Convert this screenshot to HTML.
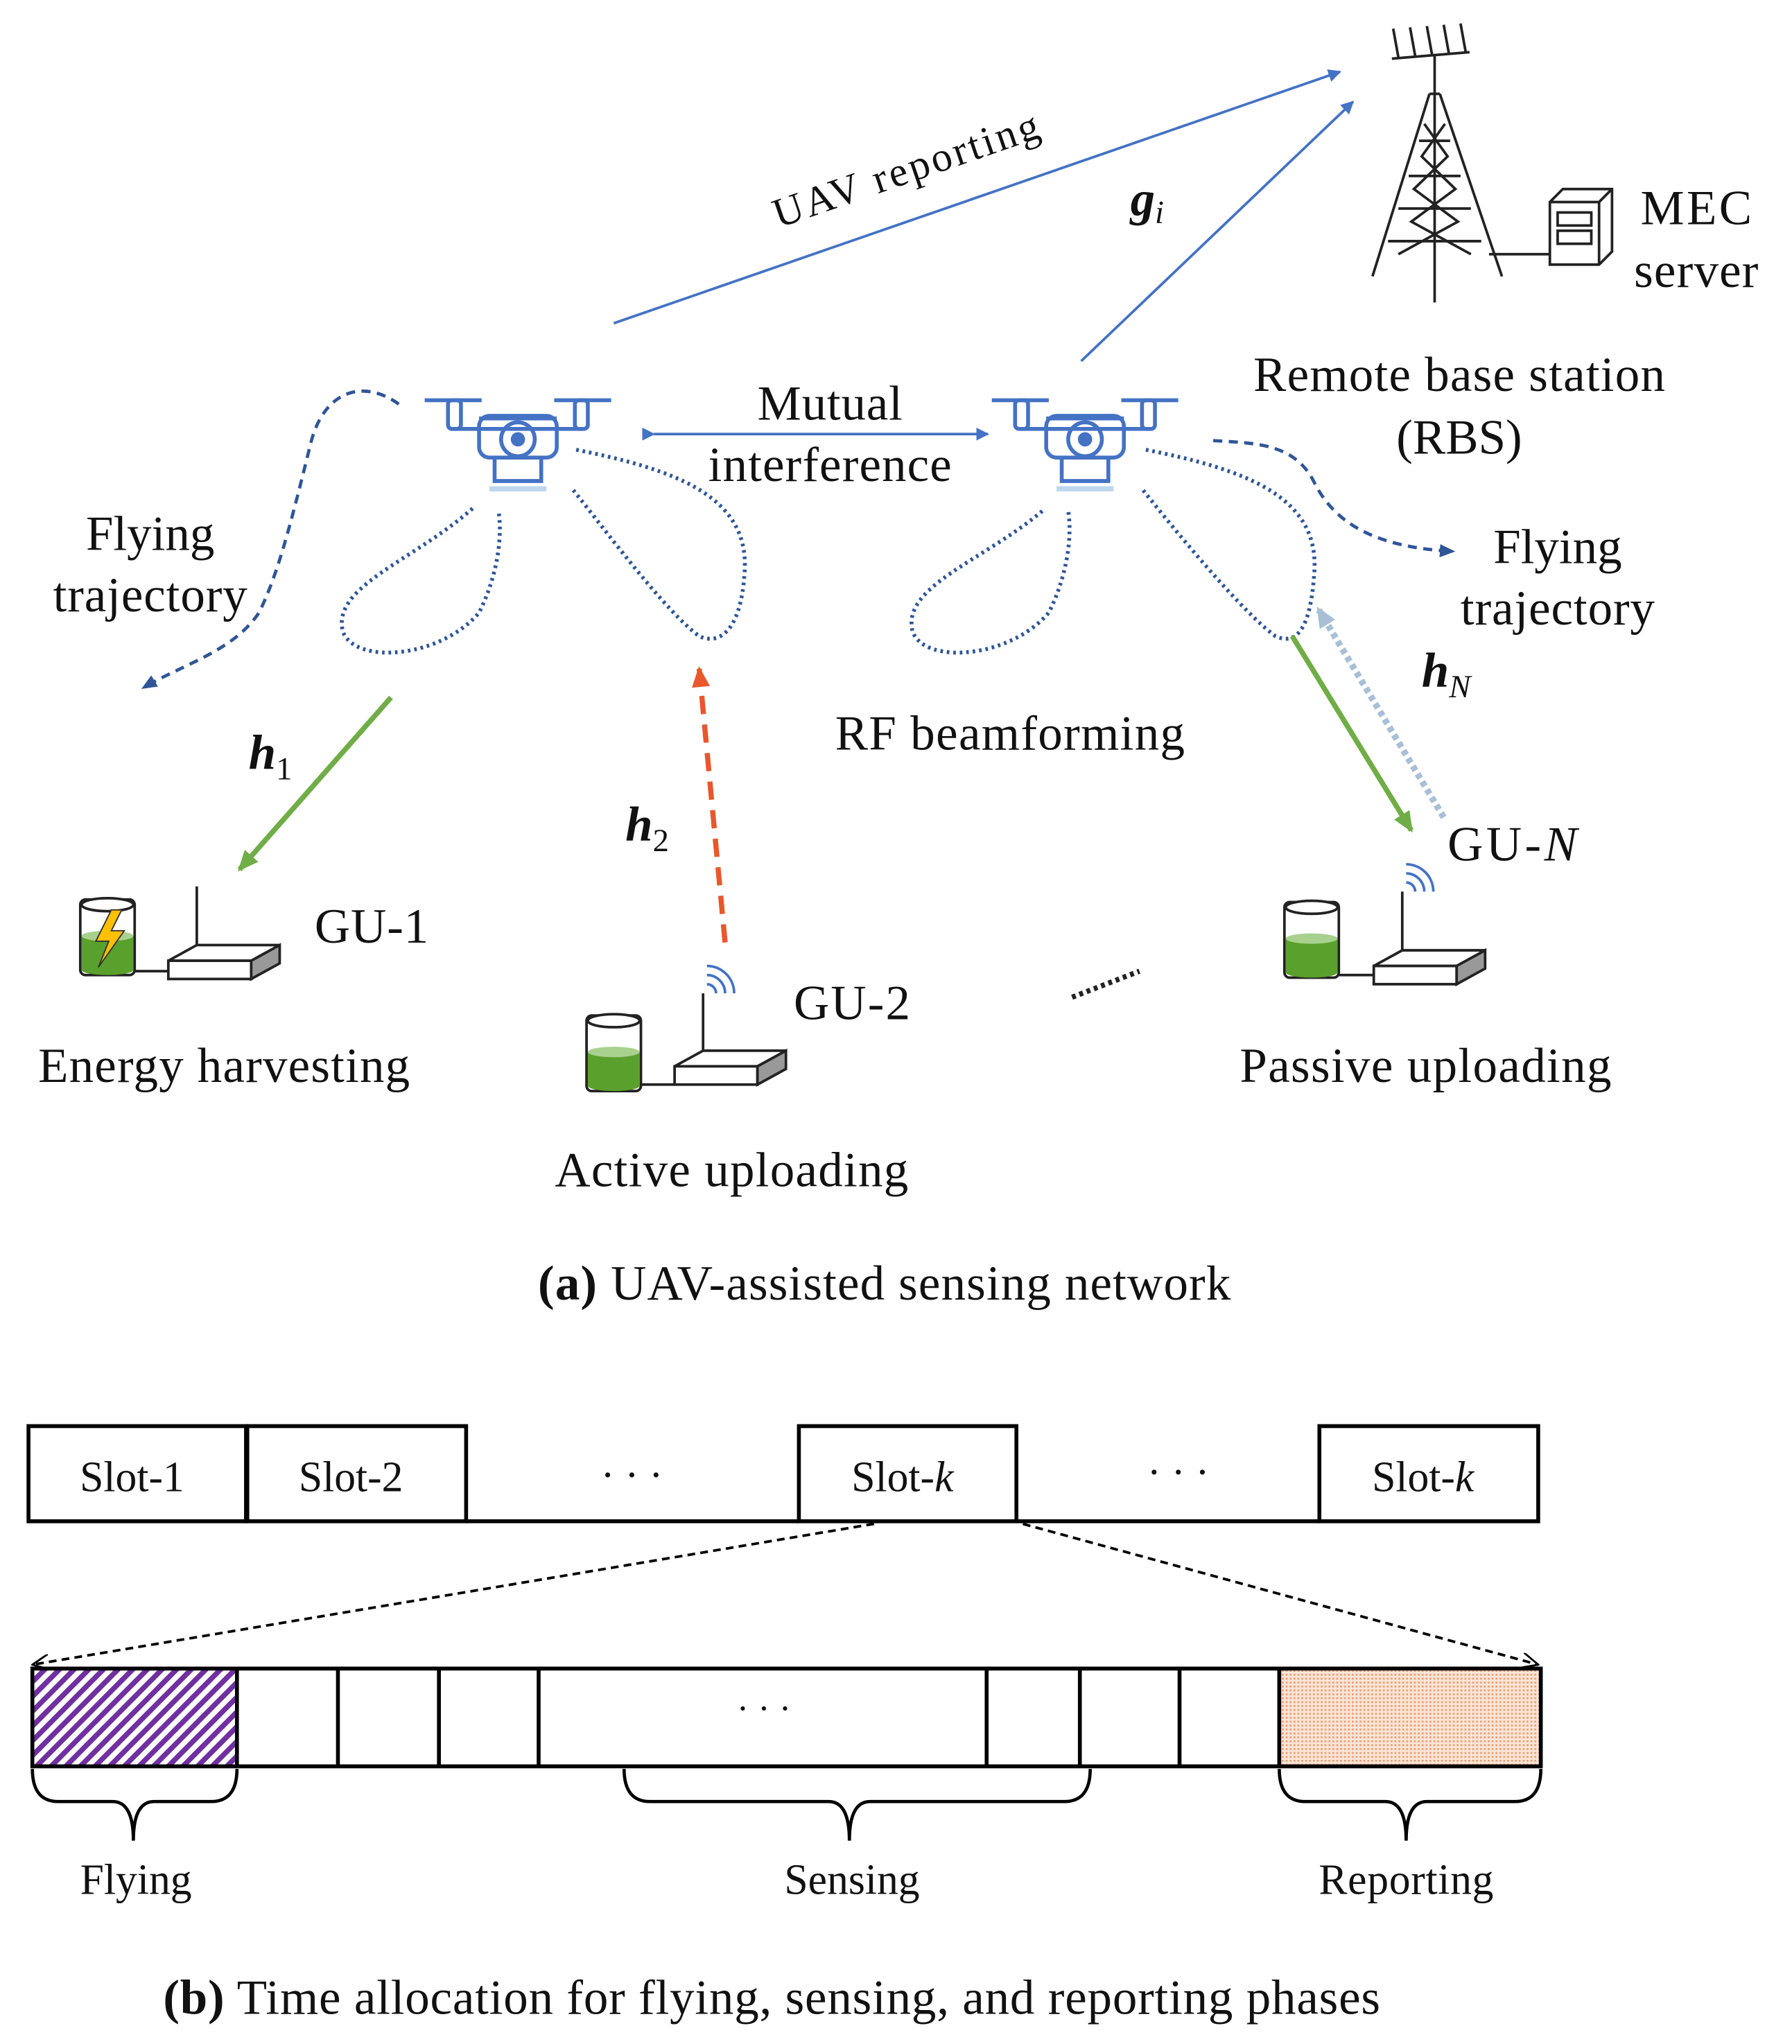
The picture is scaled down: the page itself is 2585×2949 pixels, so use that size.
<!DOCTYPE html>
<html><head><meta charset="utf-8"><style>
html,body{margin:0;padding:0;background:#fff;}
svg{display:block;}
text{font-family:"Liberation Serif",serif;fill:#111;}
</style></head><body>
<svg width="2585" height="2949" viewBox="0 0 1384 1568" preserveAspectRatio="none" xmlns="http://www.w3.org/2000/svg">
<defs>
<marker id="ab" markerWidth="10" markerHeight="10" refX="9" refY="5" orient="auto" markerUnits="userSpaceOnUse"><path d="M0,0 L10,5 L0,10 z" fill="#4472c4"/></marker>
<marker id="ab2" markerWidth="12" markerHeight="12" refX="11" refY="6" orient="auto" markerUnits="userSpaceOnUse"><path d="M0,1 L12,6 L0,11 z" fill="#2f5597"/></marker>
<marker id="ag" markerWidth="16" markerHeight="14" refX="14" refY="7" orient="auto" markerUnits="userSpaceOnUse"><path d="M0,0 L16,7 L0,14 z" fill="#70ad47"/></marker>
<marker id="ao" markerWidth="16" markerHeight="14" refX="14" refY="7" orient="auto" markerUnits="userSpaceOnUse"><path d="M0,0 L16,7 L0,14 z" fill="#e8582c"/></marker>
<marker id="al" markerWidth="16" markerHeight="14" refX="14" refY="7" orient="auto" markerUnits="userSpaceOnUse"><path d="M0,0 L16,7 L0,14 z" fill="#a9bfd6"/></marker>
<marker id="ak" markerWidth="14" markerHeight="12" refX="13" refY="6" orient="auto" markerUnits="userSpaceOnUse"><path d="M0,0 L13,6 L0,12" fill="none" stroke="#000" stroke-width="1.5"/></marker>
<pattern id="hatch" width="8" height="8" patternUnits="userSpaceOnUse" patternTransform="rotate(45)"><rect width="8" height="8" fill="#fff"/><rect width="4" height="8" fill="#7030a0"/></pattern>
<pattern id="dots" width="3" height="3" patternUnits="userSpaceOnUse"><rect width="3" height="3" fill="#fbe5d6"/><rect width="1.5" height="1.5" fill="#e8a27a"/></pattern>
<g id="drone" fill="none" stroke="#4472c4" stroke-width="3">
<line x1="-72" y1="-30" x2="-28" y2="-30"/><line x1="28" y1="-30" x2="72" y2="-30"/>
<rect x="-54" y="-30" width="10" height="22" rx="3"/><rect x="44" y="-30" width="10" height="22" rx="3"/>
<path d="M-50,-8 h100 M-30,-16 h60"/>
<rect x="-30" y="-18" width="60" height="32" rx="8"/>
<circle cx="0" cy="0" r="13"/><circle cx="0" cy="0" r="4" fill="#4472c4"/>
<path d="M-18,14 v18 h36 v-18"/>
<line x1="-22" y1="38" x2="22" y2="38" stroke="#bdd7ee" stroke-width="4"/>
</g>
<g id="bat">
<rect x="0" y="0" width="42" height="58" rx="4" fill="#fff" stroke="#222" stroke-width="2"/>
<ellipse cx="21" cy="4" rx="20" ry="5" fill="#fff" stroke="#222" stroke-width="2"/>
<path d="M1,28 h40 v26 a20,4 0 0 1 -40,0z" fill="#5aa02c"/>
<ellipse cx="21" cy="28" rx="20" ry="4" fill="#a9d18e"/>
</g>
<g id="router" fill="#fff" stroke="#222" stroke-width="2">
<path d="M0,12 L22,0 L86,0 L64,12 z"/>
<rect x="0" y="12" width="64" height="14"/>
<path d="M64,12 L86,0 L86,14 L64,26z" fill="#999"/>
</g>
<g id="wifi" fill="none" stroke="#4472c4" stroke-width="2">
<path d="M0,-7 a7,7 0 0 1 7,7"/><path d="M0,-14 a14,14 0 0 1 14,14"/><path d="M0,-21 a21,21 0 0 1 21,21"/>
</g>
</defs>

<line x1="474" y1="248" x2="1035" y2="55" stroke="#4472c4" stroke-width="2" marker-end="url(#ab)"/>
<text x="703" y="140" font-size="32" text-anchor="middle" transform="rotate(-19 703 140)" textLength="215" lengthAdjust="spacing">UAV reporting</text>
<line x1="835" y1="277" x2="1045" y2="78" stroke="#4472c4" stroke-width="2" marker-end="url(#ab)"/>
<text x="873" y="165" font-size="38" font-weight="bold" font-style="italic">g<tspan font-size="25" dy="6" font-weight="normal">i</tspan></text>

<g stroke="#222" stroke-width="2" fill="none">
<line x1="1075" y1="45" x2="1135" y2="40"/>
<line x1="1080" y1="44" x2="1076" y2="22"/><line x1="1093" y1="43" x2="1089" y2="21"/><line x1="1106" y1="42" x2="1102" y2="20"/><line x1="1119" y1="41" x2="1115" y2="19"/><line x1="1132" y1="40" x2="1128" y2="18"/>
<line x1="1108" y1="43" x2="1108" y2="232"/>
<path d="M1104,72 L1060,212 M1112,72 L1160,212 M1104,72 h8"/>
<path d="M1100,95 L1118,120 L1092,145 L1126,170 L1080,195 M1116,95 L1098,120 L1124,145 L1090,170 L1136,195"/>
<path d="M1096,108 h24 M1088,135 h40 M1080,160 h56 M1072,185 h72"/>
<line x1="1150" y1="195" x2="1197" y2="195"/>
<path d="M1197,155 L1207,145 L1245,145 L1245,193 L1235,203 L1197,203z M1197,155 h38 v48 M1235,155 L1245,145"/>
<rect x="1203" y="163" width="26" height="10"/><rect x="1203" y="177" width="26" height="10"/>
</g>
<text x="1310" y="172" font-size="38" text-anchor="middle" textLength="86" lengthAdjust="spacing">MEC</text>
<text x="1310" y="220" font-size="38" text-anchor="middle" textLength="96" lengthAdjust="spacing">server</text>
<text x="1127" y="300" font-size="38" text-anchor="middle" textLength="318" lengthAdjust="spacing">Remote base station</text>
<text x="1127" y="348" font-size="38" text-anchor="middle">(RBS)</text>

<use href="#drone" x="400" y="337"/>
<use href="#drone" x="838" y="337"/>
<line x1="505" y1="333" x2="763" y2="333" stroke="#4472c4" stroke-width="2" marker-end="url(#ab)" marker-start="url(#ab)"/>
<text x="641" y="322" font-size="38" text-anchor="middle" textLength="112" lengthAdjust="spacing">Mutual</text>
<text x="641" y="369" font-size="38" text-anchor="middle" textLength="188" lengthAdjust="spacing">interference</text>

<path d="M308,310 C280,290 250,300 240,340 C225,400 215,440 200,470 C180,500 140,510 110,528" fill="none" stroke="#2f5597" stroke-width="2.5" stroke-dasharray="7,5" marker-end="url(#ab2)"/>
<text x="116" y="422" font-size="38" text-anchor="middle">Flying</text>
<text x="116" y="469" font-size="38" text-anchor="middle" textLength="150" lengthAdjust="spacing">trajectory</text>
<path d="M937,338 C970,340 1000,340 1015,370 C1030,400 1060,420 1123,423" fill="none" stroke="#2f5597" stroke-width="2.5" stroke-dasharray="7,5" marker-end="url(#ab2)"/>
<text x="1203" y="432" font-size="38" text-anchor="middle">Flying</text>
<text x="1203" y="479" font-size="38" text-anchor="middle" textLength="150" lengthAdjust="spacing">trajectory</text>

<g fill="none" stroke="#2f5597" stroke-width="3" stroke-dasharray="2,3">
<path d="M365,390 C320,430 255,450 265,485 C275,510 340,505 370,470 C385,440 388,410 385,392"/>
<path d="M445,345 C520,360 580,380 575,440 C572,485 555,495 540,488 C515,470 470,410 442,375"/>
<path d="M805,392 C760,430 695,450 705,485 C715,510 780,505 810,470 C825,440 828,410 825,392"/>
<path d="M885,345 C960,360 1020,380 1015,440 C1012,485 1000,495 985,488 C960,470 910,410 882,375"/>
</g>
<text x="780" y="575" font-size="38" text-anchor="middle" textLength="270" lengthAdjust="spacing">RF beamforming</text>

<line x1="302" y1="535" x2="185" y2="667" stroke="#70ad47" stroke-width="4" marker-end="url(#ag)"/>
<text x="192" y="590" font-size="38" font-weight="bold" font-style="italic">h<tspan font-size="25" dy="8" font-weight="normal" font-style="normal">1</tspan></text>
<line x1="560" y1="723" x2="540" y2="513" stroke="#e8582c" stroke-width="4" stroke-dasharray="14,8" marker-end="url(#ao)"/>
<text x="483" y="645" font-size="38" font-weight="bold" font-style="italic">h<tspan font-size="25" dy="8" font-weight="normal" font-style="normal">2</tspan></text>
<line x1="998" y1="488" x2="1090" y2="637" stroke="#70ad47" stroke-width="4" marker-end="url(#ag)"/>
<line x1="1115" y1="627" x2="1018" y2="467" stroke="#a9bfd6" stroke-width="5" stroke-dasharray="4,3" marker-end="url(#al)"/>
<text x="1098" y="527" font-size="38" font-weight="bold" font-style="italic">h<tspan font-size="25" dy="8" font-weight="normal">N</tspan></text>

<use href="#bat" x="62" y="690"/>
<path d="M86,698 L74,722 L84,722 L76,742 L96,714 L86,714 L94,698z" fill="#ffc000" stroke="#333" stroke-width="1"/>
<line x1="104" y1="745" x2="130" y2="745" stroke="#222" stroke-width="2"/>
<line x1="152" y1="725" x2="152" y2="680" stroke="#222" stroke-width="2"/>
<use href="#router" x="130" y="725"/>
<text x="243" y="723" font-size="38" textLength="88" lengthAdjust="spacing">GU-1</text>
<text x="173" y="830" font-size="38" text-anchor="middle" textLength="287" lengthAdjust="spacing">Energy harvesting</text>

<use href="#bat" x="453" y="779"/>
<line x1="495" y1="832" x2="521" y2="832" stroke="#222" stroke-width="2"/>
<line x1="543" y1="806" x2="543" y2="762" stroke="#222" stroke-width="2"/>
<use href="#wifi" x="546" y="762"/>
<use href="#router" x="521" y="806"/>
<text x="613" y="782" font-size="38" textLength="90" lengthAdjust="spacing">GU-2</text>
<text x="565" y="910" font-size="38" text-anchor="middle" textLength="273" lengthAdjust="spacing">Active uploading</text>

<line x1="828" y1="765" x2="880" y2="745" stroke="#222" stroke-width="4" stroke-dasharray="3,3"/>

<use href="#bat" x="992" y="692"/>
<line x1="1034" y1="748" x2="1061" y2="748" stroke="#222" stroke-width="2"/>
<line x1="1083" y1="729" x2="1083" y2="684" stroke="#222" stroke-width="2"/>
<use href="#wifi" x="1086" y="684"/>
<use href="#router" x="1061" y="729"/>
<text x="1118" y="660" font-size="38" textLength="100" lengthAdjust="spacing">GU-<tspan font-style="italic">N</tspan></text>
<text x="1101" y="830" font-size="38" text-anchor="middle" textLength="287" lengthAdjust="spacing">Passive uploading</text>

<text x="683" y="997" font-size="38" text-anchor="middle" textLength="535" lengthAdjust="spacing"><tspan font-weight="bold">(a)</tspan> UAV-assisted sensing network</text>

<g fill="none" stroke="#000" stroke-width="3">
<rect x="22" y="1094" width="168" height="73"/>
<rect x="191" y="1094" width="169" height="73"/>
<rect x="617" y="1094" width="168" height="73"/>
<rect x="1019" y="1094" width="169" height="73"/>
<line x1="360" y1="1167" x2="617" y2="1167"/>
<line x1="785" y1="1167" x2="1019" y2="1167"/>
</g>
<text x="102" y="1144" font-size="33" text-anchor="middle">Slot-1</text>
<text x="271" y="1144" font-size="33" text-anchor="middle">Slot-2</text>
<text x="488" y="1142" font-size="32" text-anchor="middle">· · ·</text>
<text x="697" y="1144" font-size="33" text-anchor="middle">Slot-<tspan font-style="italic">k</tspan></text>
<text x="910" y="1140" font-size="32" text-anchor="middle">· · ·</text>
<text x="1099" y="1144" font-size="33" text-anchor="middle">Slot-<tspan font-style="italic">k</tspan></text>

<line x1="675" y1="1169" x2="25" y2="1277" stroke="#000" stroke-width="2" stroke-dasharray="6,4" marker-end="url(#ak)"/>
<line x1="790" y1="1169" x2="1188" y2="1277" stroke="#000" stroke-width="2" stroke-dasharray="6,4" marker-end="url(#ak)"/>

<rect x="25" y="1280" width="158" height="75" fill="url(#hatch)"/>
<rect x="988" y="1280" width="202" height="75" fill="url(#dots)"/>
<g fill="none" stroke="#000" stroke-width="3">
<rect x="25" y="1280" width="1165" height="75"/>
<path d="M183,1280v75 M261,1280v75 M339,1280v75 M416,1280v75 M762,1280v75 M834,1280v75 M911,1280v75 M988,1280v75"/>
</g>
<text x="590" y="1320" font-size="28" text-anchor="middle">· · ·</text>

<g fill="none" stroke="#000" stroke-width="2.5">
<path d="M25,1357 q0,25 20,25 h42 q16,0 16,30 q0,-30 16,-30 h44 q20,0 20,-25"/>
<path d="M482,1357 q0,25 20,25 h138 q16,0 16,30 q0,-30 16,-30 h150 q20,0 20,-25"/>
<path d="M988,1357 q0,25 20,25 h62 q16,0 16,30 q0,-30 16,-30 h68 q20,0 20,-25"/>
</g>
<text x="105" y="1453" font-size="33" text-anchor="middle">Flying</text>
<text x="658" y="1453" font-size="33" text-anchor="middle">Sensing</text>
<text x="1086" y="1453" font-size="33" text-anchor="middle" textLength="135" lengthAdjust="spacing">Reporting</text>

<text x="596" y="1545" font-size="38" text-anchor="middle" textLength="940" lengthAdjust="spacing"><tspan font-weight="bold">(b)</tspan> Time allocation for flying, sensing, and reporting phases</text>
</svg>
</body></html>
